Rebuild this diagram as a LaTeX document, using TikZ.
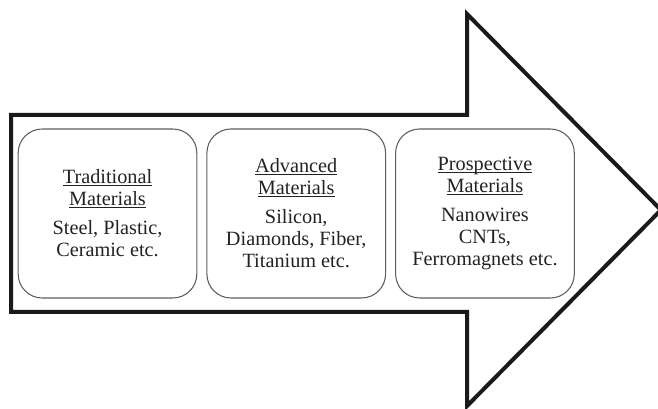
\documentclass[tikz,border=0pt]{standalone}
\usepackage{fontspec}
\setmainfont{Liberation Serif}
\usetikzlibrary{positioning}
\definecolor{boxgray}{HTML}{5E5E5E}
\definecolor{arrowblack}{HTML}{1A1A1A}
\definecolor{textblack}{HTML}{222222}
\newcommand{\stagetitle}[1]{\underline{\smash{#1}}\vphantom{A}}

\begin{document}
\begin{tikzpicture}[x=0.75pt,y=-0.75pt,node distance=6.75pt,
    matbox/.style={draw=boxgray,line width=0.8pt,rounded corners=18pt,
      minimum width=134pt,minimum height=126.75pt,align=center,
      text=textblack,font=\fontsize{15.2pt}{16.3pt}\selectfont}]
  \useasboundingbox (0,0) rectangle (658,409);
  % big arrow outline
  \draw[arrowblack,line width=3pt,miter limit=10]
    (11,115) -- (467,115) -- (467,14) -- (661,210) -- (467,406)
    -- (467,312) -- (11,312) -- cycle;
  % material stages
  \node[matbox] (trad) at (107.5,213.5)
    {\stagetitle{Traditional}\\\stagetitle{Materials}\\[5.8pt]Steel, Plastic,\\Ceramic etc.};
  \node[matbox,right=of trad] (adv)
    {\stagetitle{Advanced}\\\stagetitle{Materials}\\[5.8pt]Silicon,\\Diamonds, Fiber,\\Titanium etc.};
  \node[matbox,right=of adv] (prosp)
    {\stagetitle{Prospective}\\\stagetitle{Materials}\\[5.8pt]Nanowires\\CNTs,\\Ferromagnets etc.};
\end{tikzpicture}
\end{document}
